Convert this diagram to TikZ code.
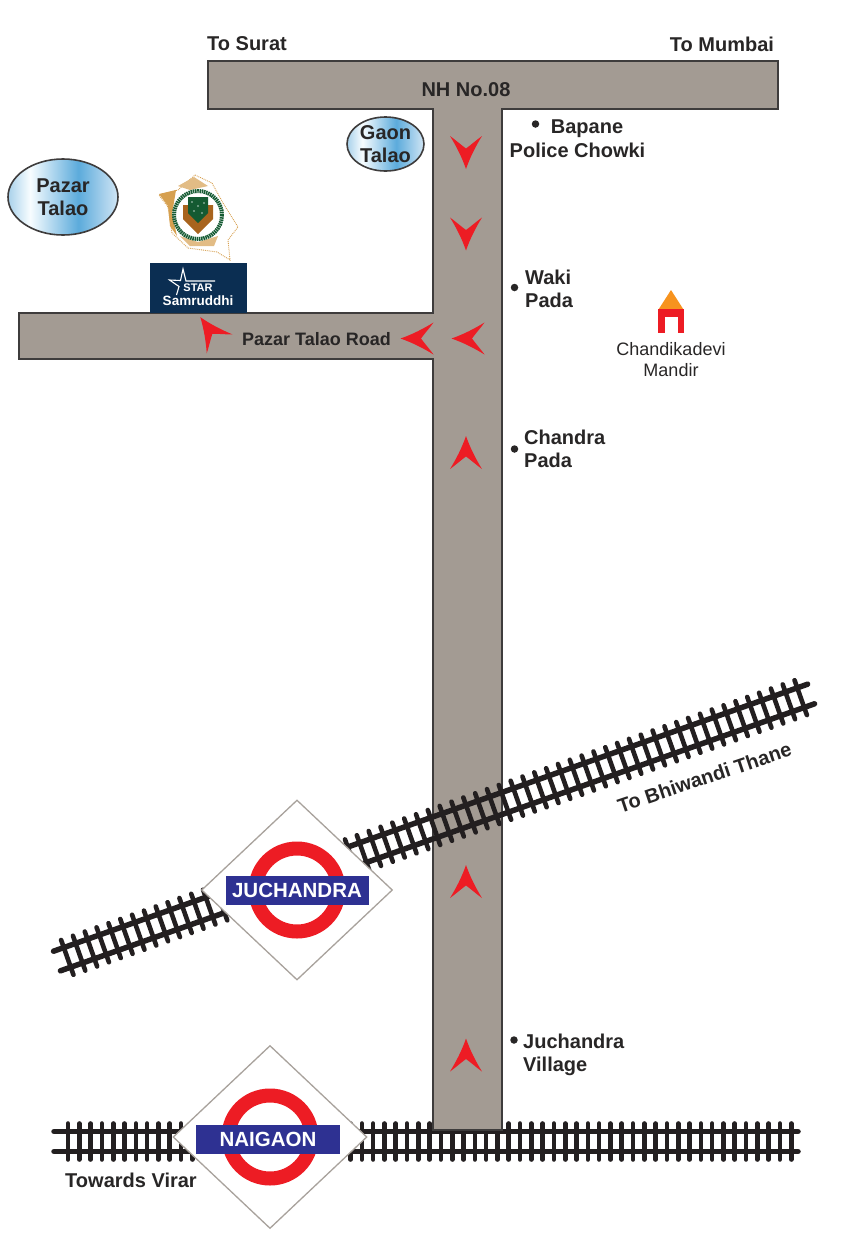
\documentclass[tikz,border=0pt]{standalone}
\usepackage{fontspec}
\setmainfont{Liberation Sans}
\usetikzlibrary{shapes.geometric, positioning}
\definecolor{my_road}{RGB}{163, 155, 147}
\definecolor{my_edge}{RGB}{62, 60, 60}
\definecolor{my_text}{RGB}{40, 38, 38}
\definecolor{my_red}{RGB}{237, 28, 36}
\definecolor{my_blue}{RGB}{46, 49, 146}
\definecolor{my_navy}{RGB}{11, 46, 82}
\definecolor{my_orange}{RGB}{247, 147, 30}
\definecolor{my_sign}{RGB}{168, 162, 156}
\definecolor{my_rail}{RGB}{35, 31, 32}
\definecolor{my_gold}{RGB}{214, 160, 80}
\definecolor{my_brown}{RGB}{168, 100, 30}
\definecolor{my_green}{RGB}{20, 90, 50}
\pgfdeclarehorizontalshading{pondshade}{100bp}{
  rgb(0bp)=(0.66,0.82,0.92); rgb(25bp)=(0.66,0.82,0.92); rgb(35bp)=(0.97,0.99,1);
  rgb(57bp)=(0.36,0.67,0.86); rgb(75bp)=(0.82,0.90,0.96); rgb(100bp)=(0.82,0.90,0.96)}
\tikzset {
  road/.style = {draw=my_edge, line width=1.4pt, fill=my_road},
  pond/.style = {draw=my_edge, line width=1.6pt, ellipse, shading=pondshade, inner sep=0pt},
  bold/.style = {text=my_text, font=\bfseries\fontsize{20}{23}\selectfont, inner sep=0pt},
  plain/.style = {text=my_text, font=\fontsize{18}{21}\selectfont, inner sep=0pt, align=center},
  dot/.style = {circle, fill=my_text, inner sep=0pt, minimum size=7.5pt},
  sign/.style = {diamond, draw=my_sign, line width=1.3pt, fill=white, inner sep=0pt},
  ring/.style = {circle, draw=my_red, line width=14pt, inner sep=0pt, minimum size=83pt},
  bar/.style = {fill=my_blue, text=white, inner sep=0pt, minimum width=143pt, minimum height=29pt,
    font=\bfseries\fontsize{20.5}{21}\selectfont},
  rail/.style = {draw=my_rail, line width=5.5pt, line cap=round},
  tie/.style = {draw=my_rail, line width=4.6pt, line cap=round},
  chevron/.pic = {\fill[my_red] (0,-16.5) .. controls (4,-5) and (9.5,6) .. (16,16.5)
    .. controls (11,13) and (5.5,8) .. (0,4) .. controls (-5.5,8) and (-11,13) .. (-16,16.5)
    .. controls (-9.5,6) and (-4,-5) .. (0,-16.5) -- cycle;}
}

\begin{document}
\begin{tikzpicture}[x=1pt, y=-1pt]
    \useasboundingbox (0,0) rectangle (843,1254);

    % lower track, under the road
    \draw[rail] (54,1131.5) -- (798,1131.5);
    \draw[rail] (54,1151.5) -- (798,1151.5);
    \foreach \x in {68,79.3,...,792} {
      \draw[tie] (\x,1123.5) -- (\x,1159.5);
    }

    % roads
    \draw[road] (208,61) -- (778,61) -- (778,109) -- (502,109) -- (502,1130) -- (433,1130) -- (433,359)
      -- (19,359) -- (19,313) -- (433,313) -- (433,109) -- (208,109) -- cycle;

    % upper track
    \begin{scope}[shift={(57,961)}, rotate=19.5]
      \draw[rail] (0,-10.4) -- (800,-10.4);
      \draw[rail] (0,10.4) -- (800,10.4);
      \foreach \x in {10.9,23.45,...,795} {
        \draw[tie] (\x,-18.5) -- (\x,18.5);
      }
    \end{scope}

    % stations
    \node[sign, minimum width=191pt, minimum height=180pt] (juchandra_sign) at (297,890) {};
    \node[ring] (juchandra_ring) at (297,890) {};
    \node[bar] (juchandra) at (297,890.5) {JUCHANDRA};
    \node[sign, minimum width=194pt, minimum height=183pt] (naigaon_sign) at (270,1137) {};
    \node[ring] (naigaon_ring) at (270,1137) {};
    \node[bar, minimum width=144pt] (naigaon) at (268,1139.5) {NAIGAON};

    % direction arrows
    \pic[rotate=180] at (466,152.5) {chevron};
    \pic[rotate=180] at (466,234) {chevron};
    \pic[rotate=90] at (417,338.5) {chevron};
    \pic[rotate=90] at (468,338.5) {chevron};
    \pic[rotate=36] at (210,330.5) {chevron};
    \pic at (466,452.5) {chevron};
    \pic at (466,881.5) {chevron};
    \pic at (466,1055) {chevron};

    % ponds
    \node[pond, minimum width=110pt, minimum height=76pt, bold, align=center] (pazar) at (63,197)
      {Pazar\\Talao};
    \node[pond, minimum width=77pt, minimum height=54pt, bold, align=center] (gaon) at (385.5,144)
      {Gaon\\Talao};

    % logo
    \draw[my_gold, line width=0.9pt, densely dotted] (195,175) -- (212,183) -- (223,203) -- (238,227)
      -- (228,240) -- (230,260) -- (217,252) -- (188,248) -- (172,233) -- (168,207) -- (159,195) -- (178,190) -- cycle;
    \fill[my_gold] (159,194) -- (176,190) -- (172,214) -- (177,236) -- (170,226) -- (168,206) -- cycle;
    \fill[my_gold!70] (178,186) -- (194,177) -- (208,186) -- (190,190) -- cycle;
    \fill[my_gold!70] (180,236) -- (198,242) -- (218,236) -- (214,246) -- (190,246) -- cycle;
    \draw[my_green, line width=4pt, dash pattern=on 1.5pt off 0.7pt] (198,215) circle (24);
    \fill[my_brown] (183,205) -- (213,205) -- (213,219) -- (198,234) -- (183,219) -- cycle;
    \fill[my_green] (188,197) -- (208,197) -- (208,213) -- (198,223) -- (188,213) -- cycle;
    \foreach \x/\y in {192/202, 198/206, 204/203, 194/211, 202/213} {
      \fill[white!70!my_green] (\x,\y) circle (0.9);
    }

    % builder box
    \fill[my_navy] (149.5,263) rectangle (247,313);
    \draw[white, line width=1.1pt, line join=miter] (215,281) -- (186,281) -- (183,269) -- (180.5,280.5) -- (169.5,280) -- (179,286.5) -- (176.5,295);
    \node[text=white, inner sep=0pt, font=\bfseries\fontsize{11}{11}\selectfont] (star) at (198,288) {STAR};
    \node[text=white, inner sep=0pt, font=\bfseries\fontsize{13.5}{13.5}\selectfont] (samruddhi) at (198,301) {Samruddhi};

    % temple
    \fill[my_orange] (671,290) -- (683.5,309.5) -- (658.5,309.5) -- cycle;
    \fill[my_red] (658,309) rectangle (684,333);
    \fill[white] (664.5,317) rectangle (678,333);
    \node[plain] (mandir) at (671,359.5) {Chandikadevi\\Mandir};

    % labels
    \node[bold] (surat) at (247,44) {To Surat};
    \node[bold] (mumbai) at (722,44) {To Mumbai};
    \node[bold] (nh) at (466,89.5) {NH No.08};
    \node[bold, font=\bfseries\fontsize{18}{21}\selectfont] (talao_road) at (316.5,339.5) {Pazar Talao Road};
    \node[dot] (bapane_dot) at (535.5,124) {};
    \node[bold] (bapane) at (587,128.5) {Bapane};
    \node[bold] (chowki) at (577.5,150) {Police Chowki};
    \node[dot] (waki_dot) at (514.5,287.5) {};
    \node[bold, align=left, anchor=west] (waki) at (525,289) {Waki\\Pada};
    \node[dot] (chandra_dot) at (514.5,449) {};
    \node[bold, align=left, anchor=west] (chandra) at (524,448.5) {Chandra\\Pada};
    \node[dot] (village_dot) at (514,1040) {};
    \node[bold, align=left, anchor=west] (village) at (523,1055) {Juchandra\\Village};
    \node[bold] (virar) at (131,1180) {Towards Virar};
    \node[bold, rotate=18.5] (bhiwandi) at (704.5,777.5) {To Bhiwandi Thane};
\end{tikzpicture}
\end{document}
